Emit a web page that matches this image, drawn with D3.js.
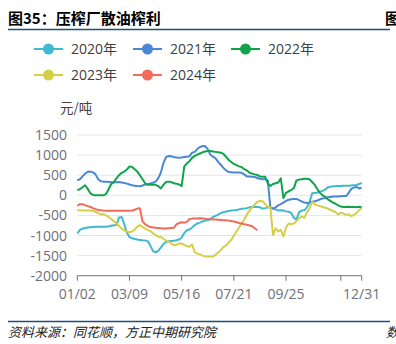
<!DOCTYPE html>
<html><head><meta charset="utf-8">
<script src="https://cdn.jsdelivr.net/npm/d3@7/dist/d3.min.js"></script>
<style>
html,body{margin:0;padding:0;background:#fff;}
svg{display:block;}
text{font-family:"Open Sans","Noto Sans CJK SC",sans-serif;}
</style></head>
<body>
<svg id="c" width="396" height="344"></svg>
<script>
const title = "图35：压榨厂散油榨利";
const source = "资料来源：同花顺，方正中期研究院";
const unitLabel = "元/吨";
const seriesNames = ["2020年","2021年","2022年","2023年","2024年"];
const seriesColors = ["#3fb8d0","#4a88d4","#0fa44a","#d4cf48","#f26a5a"];
const yTicks = [-2000,-1500,-1000,-500,0,500,1000,1500];
const xTickIdx = [0,20,40,60,80,101,109];
const xTickLabels = ["01/02","03/09","05/16","07/21","09/25","","12/31"];

const s2020 = [-950,-860,-830,-815,-800,-795,-790,-785,-785,-785,-785,-780,-770,-755,-745,-740,-550,-540,-720,-930,
-1040,-1070,-1085,-1100,-1110,-1120,-1125,-1140,-1250,-1390,-1420,-1380,-1300,-1210,-1160,-1140,-1135,-1130,-1120,-1100,
-1050,-940,-870,-850,-800,-740,-700,-680,-650,-630,-620,-590,-540,-510,-480,-440,-420,-405,-390,-380,
-375,-365,-350,-335,-330,-320,-300,-290,-285,-290,-300,-330,-320,-300,-310,-330,-350,-380,-370,-380,
-400,-410,-440,-560,-600,-420,-380,-375,-300,-180,50,60,70,90,110,140,200,215,225,225,
230,230,235,235,240,245,250,255,280,310];
const s2021 = [370,400,470,540,585,590,570,520,400,350,340,335,330,325,320,325,330,320,305,290,
270,250,240,230,225,245,270,280,295,315,340,420,560,800,950,980,970,950,940,935,
940,950,960,970,1060,1080,1150,1200,1225,1220,1150,1010,960,920,830,760,680,620,580,575,
570,570,565,560,520,470,465,460,455,430,410,400,400,370,-300,-330,-300,-250,-220,-180,
-140,-110,-100,-90,-90,-120,-150,-180,-190,-180,-160,-150,-130,-100,-80,-70,-50,-40,-30,-30,
-30,-25,-20,-20,60,160,190,210,170,190];
const s2022 = [130,150,200,250,160,50,10,0,0,0,0,30,150,280,330,420,500,560,590,640,
720,700,650,590,500,400,300,260,260,270,260,230,170,260,330,340,330,300,290,270,
230,720,790,850,930,980,1010,1040,1070,1090,1100,1100,1090,1080,1070,1060,1030,960,880,830,
780,750,720,700,650,620,560,540,520,505,470,463,460,300,230,280,300,320,420,-70,
60,100,130,180,370,390,400,410,410,400,330,260,150,60,0,-40,-100,-140,-180,-210,
-250,-280,-290,-290,-285,-290,-290,-295,-285,-290];
const s2023 = [-370,-370,-375,-380,-380,-380,-385,-410,-440,-480,-470,-500,-540,-590,-640,-700,-760,-830,-870,-900,
-920,-900,-850,-780,-740,-790,-830,-860,-890,-940,-990,-1030,-1040,-1080,-1130,-1150,-1200,-1240,-1230,-1200,
-1200,-1230,-1270,-1280,-1220,-1420,-1450,-1470,-1500,-1520,-1525,-1525,-1520,-1480,-1420,-1360,-1290,-1250,-1180,-1110,
-1000,-900,-800,-700,-600,-480,-380,-300,-230,-160,-142,-145,-220,-290,-300,-990,-820,-900,-860,-1020,
-800,-700,-720,-700,-640,-560,-530,-560,-430,-330,-160,-220,-250,-270,-290,-310,-330,-360,-390,-420,
-480,-430,-450,-490,-470,-520,-490,-440,-370,-320];
const s2024 = [-260,-220,-220,-250,-270,-290,-320,-345,-360,-370,-378,-383,-385,-385,-385,-385,-385,-385,-385,-385,
-385,-380,-360,-330,-325,-650,-720,-760,-790,-800,-810,-815,-820,-825,-825,-820,-815,-810,-720,-690,
-670,-680,-660,-590,-580,-580,-575,-570,-575,-585,-590,-595,-600,-605,-610,-615,-620,-620,-630,-640,
-650,-670,-690,-700,-720,-735,-750,-770,-820,-870];

const allSeries = [s2020,s2021,s2022,s2023,s2024];

const svg = d3.select("#c");
const x = d3.scaleLinear().domain([0,109]).range([77.3,361.7]);
const y = d3.scaleLinear().domain([-2000,1500]).range([275.7,135]);

// Title
svg.append("text").attr("x",8).attr("y",23.5).attr("font-size",15).attr("font-weight","bold")
  .attr("fill","#000").style("font-family","'Noto Sans CJK SC',sans-serif").text(title);
svg.append("text").attr("x",385).attr("y",23.5).attr("font-size",15).attr("font-weight","bold")
  .attr("fill","#000").style("font-family","'Noto Sans CJK SC',sans-serif").text("图");
svg.append("line").attr("x1",8).attr("x2",390).attr("y1",29.5).attr("y2",29.5)
  .attr("stroke","#1f4e79").attr("stroke-width",1.3);

// Legend
const legendPos = [[34,49],[133,49],[231,49],[34,75],[133,75]];
seriesNames.forEach((n,i)=>{
  const [lx,ly] = legendPos[i];
  const g = svg.append("g");
  g.append("line").attr("x1",lx).attr("x2",lx+29).attr("y1",ly).attr("y2",ly)
    .attr("stroke",seriesColors[i]).attr("stroke-width",2);
  g.append("circle").attr("cx",lx+14.5).attr("cy",ly).attr("r",5.5).attr("fill",seriesColors[i]);
  g.append("text").attr("x",lx+37).attr("y",ly).attr("dy","0.36em").attr("font-size",14)
    .attr("fill","#404040").text(n);
});

// unit
svg.append("text").attr("x",60).attr("y",108).attr("dy","0.36em").attr("font-size",13.5)
  .attr("fill","#404040").style("font-family","'Noto Sans CJK SC',sans-serif").text(unitLabel);

// Grid
svg.append("g").selectAll("line").data(yTicks.filter(v=>v>-2000)).join("line")
  .attr("x1",77.3).attr("x2",361.7).attr("y1",d=>y(d)).attr("y2",d=>y(d))
  .attr("stroke","#e0e6f1").attr("stroke-width",1);

// Y labels
svg.append("g").selectAll("text").data(yTicks).join("text")
  .attr("x",67).attr("y",d=>y(d)).attr("dy","0.36em").attr("text-anchor","end")
  .attr("font-size",14).attr("fill","#6e7079").text(d=>d);

// X axis
svg.append("line").attr("x1",77.3).attr("x2",361.7).attr("y1",y(-2000)).attr("y2",y(-2000))
  .attr("stroke","#6e7079").attr("stroke-width",1);
const xt = svg.append("g");
xTickIdx.forEach((t,i)=>{
  xt.append("line").attr("x1",x(t)).attr("x2",x(t)).attr("y1",y(-2000)).attr("y2",y(-2000)+5)
    .attr("stroke","#6e7079");
  if (xTickLabels[i]) xt.append("text").attr("x",x(t)).attr("y",y(-2000)+18).attr("dy","0.36em")
    .attr("text-anchor","middle").attr("font-size",14).attr("fill","#6e7079").text(xTickLabels[i]);
});

// Lines
const line = d3.line().x((d,i)=>x(i)).y(d=>y(d));
allSeries.forEach((s,i)=>{
  svg.append("path").attr("d",line(s)).attr("fill","none").attr("stroke",seriesColors[i])
    .attr("stroke-width",2).attr("stroke-linejoin","round");
});

// Source
svg.append("line").attr("x1",8).attr("x2",390).attr("y1",321.5).attr("y2",321.5)
  .attr("stroke","#1f4e79").attr("stroke-width",1.3);
svg.append("text").attr("x",8).attr("y",332).attr("dy","0.36em").attr("font-size",13)
  .attr("font-style","italic").attr("fill","#222").style("font-family","'Noto Sans CJK SC',sans-serif").text(source);
svg.append("text").attr("x",386).attr("y",332).attr("dy","0.36em").attr("font-size",13)
  .attr("font-style","italic").attr("fill","#222").style("font-family","'Noto Sans CJK SC',sans-serif").text("数");
</script>
</body></html>
